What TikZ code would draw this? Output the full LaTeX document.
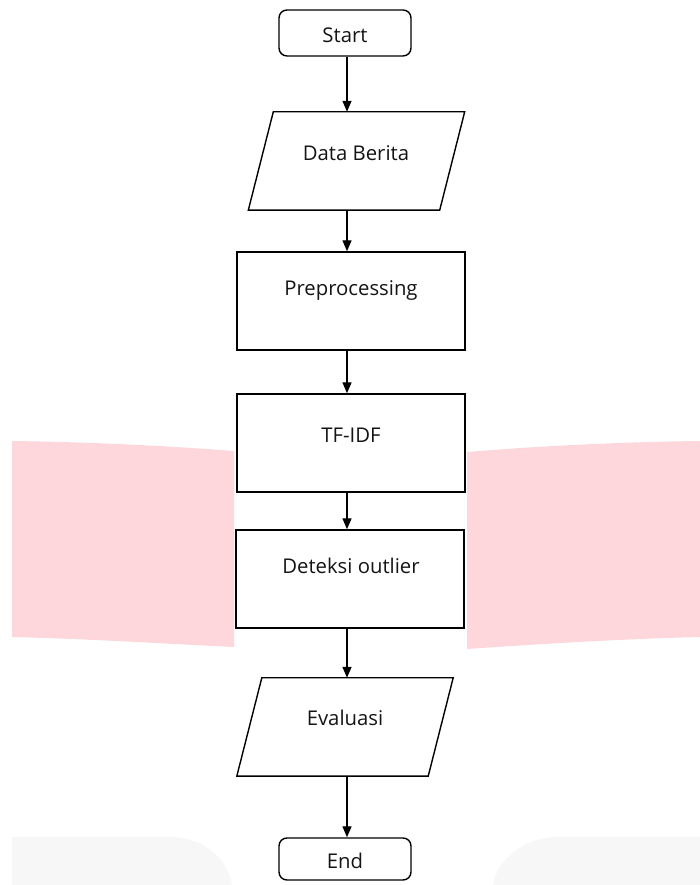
\documentclass[tikz,border=0pt]{standalone}
\usepackage{fontspec}
\setmainfont{Open Sans}
\usetikzlibrary{arrows.meta}
\definecolor{wmpink}{HTML}{FDD7DB}
\definecolor{wmgray}{HTML}{F7F7F7}
\tikzset{
  every picture/.style={x=1pt,y=1pt},
  shapebox/.style={draw=black, line width=1.4pt, rectangle, minimum width=228pt, minimum height=98pt, inner sep=0pt},
  termbox/.style={draw=black, line width=1.4pt, rectangle, rounded corners=8pt, minimum width=132pt, inner sep=0pt},
  iobox/.style={draw=none, rectangle, minimum width=191pt, minimum height=98pt, inner sep=0pt},
  ioline/.style={draw=black, line width=1.4pt, line join=miter},
  lbl/.style={font=\fontsize{20.3pt}{23pt}\selectfont, inner sep=0pt, text=black!92},
  arr/.style={draw=black, line width=1.4pt, -{Triangle[length=11pt,width=9pt]}},
}
\begin{document}
\begin{tikzpicture}
\useasboundingbox (0,0) rectangle (700,885);
% watermark shapes
\fill[wmpink] (12,444) .. controls (90,443) and (170,439) .. (234,434) -- (234,238) .. controls (170,241) and (90,246) .. (12,248) -- cycle;
\fill[wmpink] (467,433) .. controls (540,439) and (620,443) .. (700,444) -- (700,248) .. controls (620,246) and (540,241) .. (467,236) -- cycle;
\fill[wmgray] (12,48) -- (170,48) .. controls (205,48) and (228,25) .. (232,0) -- (12,0) -- cycle;
\fill[wmgray] (700,48) -- (558,48) .. controls (523,48) and (497,25) .. (493,0) -- (700,0) -- cycle;

\coordinate (ax) at (347,0);
% nodes
\node[termbox, minimum height=46pt] (start) at (345,852) {};
\node[iobox] (data) at (356.5,724) {};
\node[shapebox] (pre) at (351,584) {};
\node[shapebox] (tfidf) at (351,442) {};
\node[shapebox] (det) at (350,306) {};
\node[iobox] (eval) at (345,158) {};
\node[termbox, minimum height=42pt] (end) at (345,26) {};

\draw[ioline] ([xshift=-12.5pt]data.south west) -- ([xshift=12.5pt]data.north west) -- ([xshift=12.5pt]data.north east) -- ([xshift=-12.5pt]data.south east) -- cycle;
\draw[ioline] ([xshift=-12.5pt]eval.south west) -- ([xshift=12.5pt]eval.north west) -- ([xshift=12.5pt]eval.north east) -- ([xshift=-12.5pt]eval.south east) -- cycle;

% labels
\node[lbl] at (345,850) {Start};
\node[lbl] at (356,732) {Data Berita};
\node[lbl] at (351,595) {Preprocessing};
\node[lbl] at (351,450) {TF-IDF};
\node[lbl] at (351,319) {Deteksi outlier};
\node[lbl] at (345,167) {Evaluasi};
\node[lbl] at (345,24) {End};

% connectors
\draw[arr] (start.south -| ax) -- (data.north -| ax);
\draw[arr] (data.south -| ax) -- (pre.north -| ax);
\draw[arr] (pre.south -| ax) -- (tfidf.north -| ax);
\draw[arr] (tfidf.south -| ax) -- (det.north -| ax);
\draw[arr] (det.south -| ax) -- (eval.north -| ax);
\draw[arr] (eval.south -| ax) -- (end.north -| ax);
\end{tikzpicture}
\end{document}
